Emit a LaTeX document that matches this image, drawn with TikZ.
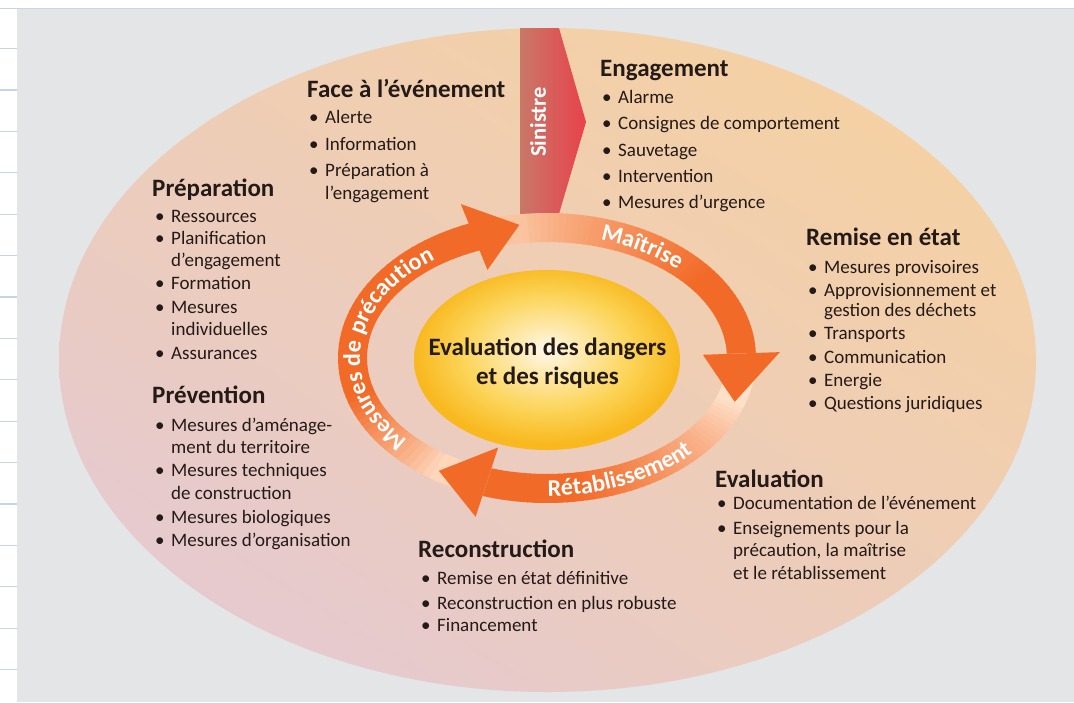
\documentclass[tikz,border=0pt]{standalone}
\usepackage{fontspec}
\setmainfont{Carlito}
\usetikzlibrary{decorations.text,shadings}
\definecolor{bggrey}{HTML}{E4E5E7}
\definecolor{lineblue}{HTML}{C6D4E6}
\definecolor{txt}{HTML}{241A17}
\definecolor{ringorange}{HTML}{F26A27}
\definecolor{paleA}{HTML}{FAC4A0}
\definecolor{paleB}{HTML}{FEE0CA}
\definecolor{paleC}{HTML}{FDD7BD}
\definecolor{ellUR}{HTML}{F8D29C}
\definecolor{ellUL}{HTML}{EECDB6}
\definecolor{ellLL}{HTML}{E2C8D8}
\definecolor{ellLR}{HTML}{EDCDB8}
\definecolor{sinL}{HTML}{C97868}
\definecolor{sinR}{HTML}{E8424C}
\definecolor{yolk0}{HTML}{FFF8EC}
\definecolor{yolk1}{HTML}{FEEAB0}
\definecolor{yolk2}{HTML}{FCD458}
\definecolor{yolk3}{HTML}{F8B81E}
\pgfdeclareradialshading{yolk}{\pgfpoint{0bp}{3bp}}{color(0bp)=(yolk0); color(6bp)=(yolk1); color(16bp)=(yolk2); color(25bp)=(yolk3); color(50bp)=(yolk3)}
\newcommand\bodyfont{\fontsize{19}{23}\selectfont}
\newcommand\headfont{\fontsize{25}{27}\selectfont\bfseries}
\newcommand\ringfont{\fontsize{24}{24}\selectfont\bfseries}
\newcommand\bu{\llap{\textbullet\hspace{6.5pt}}}
\def\cx{547}\def\cy{358}
\def\ro{209}\def\rb{145}\def\ri{180}\def\rib{116}
% start angle, end angle, pale colour, ramp start angle, ramp length
\newcommand\ringseg[5]{%
 \foreach \k in {1,...,60}{%
   \pgfmathsetmacro\ta{#1+(#2-#1)*(\k-1)/60}%
   \pgfmathsetmacro\tb{#1+(#2-#1)*\k/60+0.4}%
   \pgfmathsetmacro\pc{100*(min(1,max(0.001,(\ta-#4)/#5)))^0.8}%
   \fill[ringorange!\pc!#3] ({\cx+\ro*cos(\ta)},{\cy+\rb*sin(\ta)}) -- ({\cx+\ro*cos(\tb)},{\cy+\rb*sin(\tb)}) -- ({\cx+\ri*cos(\tb)},{\cy+\rib*sin(\tb)}) -- ({\cx+\ri*cos(\ta)},{\cy+\rib*sin(\ta)}) -- cycle;
 }}
\newcommand\ringhead[3]{% base angle, tip angle, widening
 \fill[ringorange] ({\cx+(\ro+#3)*cos(#1)},{\cy+(\rb+#3)*sin(#1)}) -- ({\cx+198.5*cos(#2)},{\cy+134.5*sin(#2)}) -- ({\cx+(\ri-#3)*cos(#1)},{\cy+(\rib-#3)*sin(#1)}) -- cycle;}
\tikzset{
  item/.style={anchor=base west, inner sep=0pt, font=\bodyfont, text=txt},
  head/.style={anchor=base west, inner sep=0pt, font=\headfont, text=txt},
  midtxt/.style={anchor=base, inner sep=0pt, font=\fontsize{25}{26}\selectfont\bfseries, text=txt},
}
\begin{document}
\begin{tikzpicture}[x=1pt,y=-1pt]
\useasboundingbox (0,0) rectangle (1074,702);
% frame
\fill[white] (0,0) rectangle (1074,702);
\fill[bggrey] (17,9) rectangle (1074,702);
\draw[lineblue, line width=1.2pt] (0,8.5) -- (1074,8.5);
\foreach \yy in {48.5,89.9,131.3,172.7,214.1,255.5,296.9,338.3,379.7,421.1,462.5,503.9,545.3,586.7,628.1,669.5}
  \draw[lineblue, line width=1.2pt] (0,\yy) -- (17,\yy);
% big ellipse
\shade[upper left=ellUL, upper right=ellUR, lower left=ellLL, lower right=ellLR] (547.5,360) ellipse [x radius=488.5, y radius=332];
% Sinistre arrow
\shade[left color=sinL, right color=sinR] (520,28) -- (559,28) -- (586,122) -- (559,214) -- (520,214) -- cycle;
% ring arrows (each tail starts under the previous head)
\ringseg{248}{358}{paleA}{262}{60}
\ringseg{-2}{108}{paleB}{19}{62}
\ringseg{108}{248}{paleC}{123}{40}
\ringhead{358}{19}{24}
\ringhead{108}{123}{22}
\ringhead{248}{262}{21}
% centre
\shade[shading=yolk] (547,360) ellipse [x radius=133, y radius=90];
\node[midtxt] (c1) at (547.5,355) {Evaluation des dangers};
\node[midtxt] (c2) at (547.5,384) {et des risques};
% Sinistre label
\node[rotate=90, inner sep=0pt, font=\fontsize{22.5}{24}\selectfont\bfseries, text=white] (sin) at (538,122) {Sinistre};
% ring labels
\path[decorate, decoration={text along path, text={|\ringfont\color{white}|Maîtrise}, text align=center}]
  plot[domain=268:338, samples=50] ({\cx+187*cos(\x)},{\cy+123*sin(\x)});
\path[decorate, decoration={text along path, text={|\ringfont\color{white}|Rétablissement}, text align=center}]
  plot[domain=0:90, samples=60] ({\cx+202*cos(109-\x)},{\cy+138*sin(109-\x)});
\path[decorate, decoration={text along path, text={|\ringfont\color{white}|Mesures de précaution}, text align=center}]
  plot[domain=115:255, samples=80] ({\cx+187*cos(\x)},{\cy+123*sin(\x)});
% Face a l'evenement
\node[head] (faceH) at (307,97) {Face à l’événement};
\foreach \yy/\t [count=\i] in {123/{\bu Alerte},150/{\bu Information},176/{\bu Préparation à},199/{l’engagement}}
  \node[item] (face\i) at (325,\yy) {\t};
% Engagement
\node[head] (engH) at (600,76) {Engagement};
\foreach \yy/\t [count=\i] in {103/{\bu Alarme},129/{\bu Consignes de comportement},156/{\bu Sauvetage},182/{\bu Intervention},208/{\bu Mesures d’urgence}}
  \node[item] (eng\i) at (618,\yy) {\t};
% Preparation
\node[head] (prepH) at (152,196) {Préparation};
\foreach \yy/\t [count=\i] in {222/{\bu Ressources},244/{\bu Planification},266/{d’engagement},289/{\bu Formation},313/{\bu Mesures},335/{individuelles},359/{\bu Assurances}}
  \node[item] (prep\i) at (171,\yy) {\t};
% Prevention
\node[head] (prevH) at (152,403) {Prévention};
\foreach \yy/\t [count=\i] in {431/{\bu Mesures d’aménage-},453/{ment du territoire},476/{\bu Mesures techniques},499/{de construction},523/{\bu Mesures biologiques},546/{\bu Mesures d’organisation}}
  \node[item] (prev\i) at (171,\yy) {\t};
% Remise en etat
\node[head] (remH) at (806,245) {Remise en état};
\foreach \yy/\t [count=\i] in {273/{\bu Mesures provisoires},296/{\bu Approvisionnement et},316/{gestion des déchets},339/{\bu Transports},363/{\bu Communication},386/{\bu Energie},409/{\bu Questions juridiques}}
  \node[item] (rem\i) at (824,\yy) {\t};
% Evaluation
\node[head] (evaH) at (715,487) {Evaluation};
\foreach \yy/\t [count=\i] in {509/{\bu Documentation de l’événement},534/{\bu Enseignements pour la},556/{précaution, la maîtrise},579/{et le rétablissement}}
  \node[item] (eva\i) at (733,\yy) {\t};
% Reconstruction
\node[head] (recH) at (418,557) {Reconstruction};
\foreach \yy/\t [count=\i] in {584/{\bu Remise en état définitive},609/{\bu Reconstruction en plus robuste},631/{\bu Financement}}
  \node[item] (rec\i) at (437,\yy) {\t};
\end{tikzpicture}
\end{document}
